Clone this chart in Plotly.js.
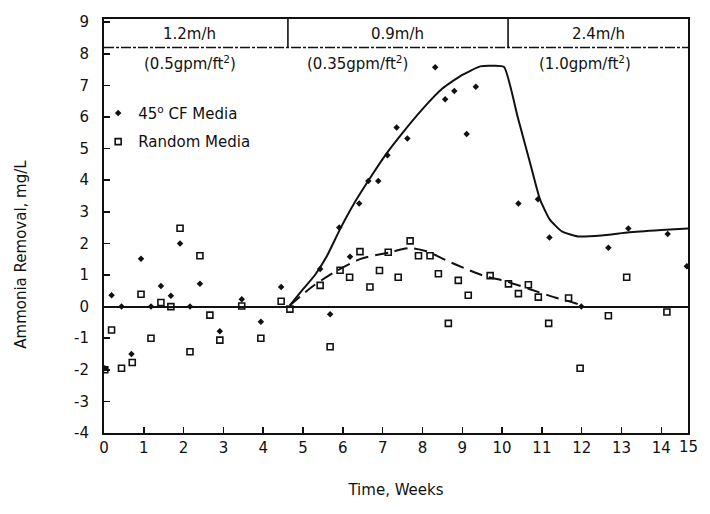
<!DOCTYPE html>
<html>
<head>
<meta charset="utf-8">
<script src="https://cdn.plot.ly/plotly-3.0.1.min.js"></script>
<style>html,body{margin:0;padding:0;background:#fff;}#chart{width:710px;height:514px;}</style>
</head>
<body>
<div id="chart"></div>
<script>
// 45° CF Media measurements
const cfWeeks = [0.02, 0.19, 0.44, 0.69, 0.93, 1.18, 1.43, 1.68, 1.91, 2.16, 2.41, 2.91, 3.46, 3.94, 4.45, 5.43, 5.68, 5.91, 6.18, 6.41, 6.64, 6.89, 7.12, 7.35, 7.62, 8.32, 8.57, 8.8, 9.11, 9.34, 10.41, 10.9, 11.19, 11.99, 12.67, 13.17, 14.16, 14.64];
const cfRemoval = [-1.95, 0.36, 0.0, -1.5, 1.51, 0.0, 0.65, 0.34, 2.0, 0.0, 0.72, -0.78, 0.23, -0.48, 0.62, 1.19, -0.24, 2.5, 1.58, 3.26, 3.97, 3.97, 4.79, 5.67, 5.32, 7.57, 6.56, 6.82, 5.46, 6.96, 3.26, 3.4, 2.19, 0.0, 1.86, 2.47, 2.3, 1.28];

// Random Media measurements
const rmWeeks = [0.02, 0.19, 0.44, 0.71, 0.93, 1.18, 1.43, 1.68, 1.91, 2.16, 2.41, 2.66, 2.91, 3.46, 3.94, 4.45, 4.67, 5.43, 5.68, 5.93, 6.17, 6.43, 6.68, 6.92, 7.14, 7.39, 7.69, 7.9, 8.19, 8.4, 8.65, 8.9, 9.15, 9.7, 10.16, 10.41, 10.66, 10.91, 11.17, 11.67, 11.96, 12.67, 13.13, 14.14];
const rmRemoval = [-2.0, -0.74, -1.95, -1.77, 0.39, -1.0, 0.13, 0.0, 2.48, -1.43, 1.61, -0.27, -1.06, 0.02, -1.0, 0.17, -0.08, 0.67, -1.27, 1.15, 0.93, 1.74, 0.62, 1.14, 1.72, 0.93, 2.08, 1.61, 1.61, 1.04, -0.53, 0.83, 0.36, 0.98, 0.72, 0.41, 0.69, 0.3, -0.53, 0.27, -1.95, -0.29, 0.93, -0.17];

// Fitted curves
const cfFitWeeks = [4.67, 5.0, 5.3, 5.6, 5.93, 6.3, 6.7, 7.1, 7.5, 8.0, 8.5, 9.0, 9.45, 9.8, 10.05, 10.4, 10.7, 10.95, 11.2, 11.5, 11.9, 12.5, 13.2, 14.0, 14.67];
const cfFitRemoval = [0.04, 0.55, 1.0, 1.6, 2.45, 3.3, 4.1, 4.85, 5.5, 6.25, 6.9, 7.33, 7.6, 7.62, 7.58, 5.96, 4.56, 3.4, 2.75, 2.38, 2.22, 2.25, 2.35, 2.42, 2.47];
const rmFitWeeks = [4.67, 5.22, 5.8, 6.43, 7.19, 7.69, 8.1, 8.6, 9.1, 9.6, 10.1, 10.7, 11.3, 11.8, 12.0];
const rmFitRemoval = [0.04, 0.62, 1.1, 1.5, 1.72, 1.85, 1.75, 1.46, 1.19, 0.95, 0.8, 0.55, 0.3, 0.12, 0.03];

// Loading-rate periods
const periodBounds = [4.62, 10.15];
const periodRates = ["1.2m/h", "0.9m/h", "2.4m/h"];
const periodRateX = [2.16, 7.36, 12.41];
const periodFlux = ["(0.5gpm/ft<sup>2</sup>)", "(0.35gpm/ft<sup>2</sup>)", "(1.0gpm/ft<sup>2</sup>)"];
const periodFluxX = [2.16, 6.36, 12.09];

// Axis ticks
const xTickVals = [0,1,2,3,4,5,6,7,8,9,10,11,12,13,14];
const xTickText = ["0","1","2","3","4","5","6","7","8","9","10","11","12","13","14"];
const yTickVals = [-4,-3,-2,-1,0,1,2,3,4,5,6,7,8,9];
const yTickText = ["-4","-3","-2","-1","0","1","2","3","4","5","6","7","8","9"];

const FONT = "DejaVu Sans, Verdana, sans-serif";
const XMAX = 14.67, YMIN = -4, YMAX = 9.1, BAND = 8.2;

const traces = [
  {x: cfFitWeeks, y: cfFitRemoval, type: "scatter", mode: "lines", showlegend: false,
   line: {color: "#111", width: 2, shape: "spline", smoothing: 0.5}, hoverinfo: "skip"},
  {x: rmFitWeeks, y: rmFitRemoval, type: "scatter", mode: "lines", showlegend: false,
   line: {color: "#111", width: 2, dash: "13px,7px", shape: "spline", smoothing: 0.8}, hoverinfo: "skip"},
  {x: cfWeeks, y: cfRemoval, type: "scatter", mode: "markers", name: "45<sup>o</sup> CF Media",
   legendgroup: "a", marker: {symbol: "diamond", size: 5, color: "#111"}},
  {x: rmWeeks, y: rmRemoval, type: "scatter", mode: "markers", name: "Random Media",
   legendgroup: "b", marker: {symbol: "square-open", size: 6, color: "#111", line: {width: 1.6, color: "#111"}}}
];

const shapes = [
  {type: "line", xref: "x", yref: "y", x0: 0, x1: XMAX, y0: BAND, y1: BAND,
   line: {color: "#111", width: 1.6, dash: "10px,2px,3px,2px"}}
];
periodBounds.forEach(b => shapes.push({type: "line", xref: "x", yref: "y", x0: b, x1: b, y0: BAND, y1: YMAX,
   line: {color: "#111", width: 1.6}}));

const annotations = [];
periodRates.forEach((t, i) => annotations.push({x: periodRateX[i], y: 8.62, xref: "x", yref: "y", text: t,
   showarrow: false, font: {family: FONT, size: 15, color: "#111"}}));
periodFlux.forEach((t, i) => annotations.push({x: periodFluxX[i], y: 7.72, xref: "x", yref: "y", text: t,
   showarrow: false, font: {family: FONT, size: 15, color: "#111"}}));
annotations.push({xref: "paper", yref: "paper", x: (700 - 104) / 584, y: -0.034, yanchor: "middle",
   text: "15", showarrow: false, font: {family: FONT, size: 15, color: "#111"}});
annotations.push({xref: "paper", yref: "paper", x: -0.16, y: 0.432, textangle: -90,
   text: "Ammonia Removal, mg/L", showarrow: false, font: {family: FONT, size: 15, color: "#111"}});

const layout = {
  width: 710, height: 514,
  margin: {l: 104, r: 22, t: 19, b: 81},
  paper_bgcolor: "#fff", plot_bgcolor: "#fff",
  font: {family: FONT, color: "#111", size: 15},
  showlegend: true,
  legend: {x: -0.01, y: 0.812, xanchor: "left", yanchor: "top", bgcolor: "rgba(0,0,0,0)",
           font: {family: FONT, size: 15, color: "#111"}, traceorder: "grouped", tracegroupgap: 6},
  xaxis: {range: [0, XMAX], tickvals: xTickVals, ticktext: xTickText, ticks: "inside", ticklen: 6,
          tickwidth: 1.5, tickcolor: "#111", showline: true, linewidth: 2, linecolor: "#111", mirror: true,
          showgrid: false, zeroline: false, tickfont: {family: FONT, size: 15},
          title: {text: "Time, Weeks", font: {family: FONT, size: 15, color: "#111"}, standoff: 28}},
  yaxis: {range: [YMIN, YMAX], tickvals: yTickVals, ticktext: yTickText, ticks: "inside", ticklen: 6,
          tickwidth: 1.5, tickcolor: "#111", showline: true, linewidth: 2, linecolor: "#111", mirror: true,
          showgrid: false, zeroline: true, zerolinecolor: "#111", zerolinewidth: 2, ticklabelstandoff: 10,
          tickfont: {family: FONT, size: 15}},
  shapes: shapes,
  annotations: annotations
};

Plotly.newPlot("chart", traces, layout, {displayModeBar: false, staticPlot: true});
</script>
</body>
</html>
